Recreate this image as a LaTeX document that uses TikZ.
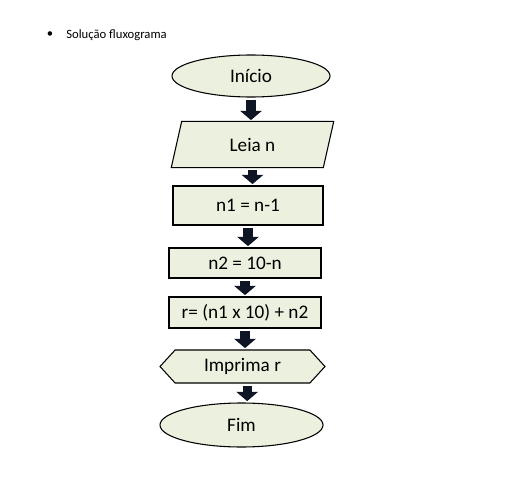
\documentclass[tikz,border=0pt]{standalone}
\usepackage{fontspec}
\setmainfont{Carlito}
\usetikzlibrary{shapes.geometric,shapes.symbols,arrows.meta,backgrounds}
\definecolor{boxfill}{HTML}{EBF1DE}
\definecolor{arrowblue}{HTML}{0E1626}
\tikzset{
  base/.style={draw=black, line width=0.8pt, fill=boxfill, inner sep=0pt,
    font=\fontsize{14.4}{16}\selectfont},
  terminal/.style={base, ellipse},
  io/.style={base, draw=none, fill=none, rectangle},
  process/.style={base, rectangle},
  output/.style={base, signal, signal to=west and east, signal pointer angle=95},
  blockarrow/.style={arrowblue, line width=7pt,
    -{Triangle[width=16pt,length=7pt]}, shorten <=1.5pt, shorten >=1pt}
}
\begin{document}
\begin{tikzpicture}[x=0.75pt,y=-0.75pt]
\useasboundingbox (0,0) rectangle (517,481);

% heading
\node[font=\fontsize{9.5}{11}\selectfont] (dot) at (50,35) {\textbullet};
\node[anchor=west, inner sep=0pt, font=\fontsize{9.5}{11}\selectfont] (titulo) at (66,35) {Solução fluxograma};

% flowchart
\node[terminal, minimum width=118.5pt, minimum height=31.5pt] (inicio) at (251,76) {Início};
\node[io, minimum width=113.25pt, minimum height=33.75pt] (leia) at (252.5,144.5) {Leia n};
\node[process, minimum width=112.5pt, minimum height=29.25pt] (n1) at (248,205.5) {n1 = n-1};
\node[process, minimum width=114pt, minimum height=22.5pt] (n2) at (245,263) {n2 = 10-n};
\node[process, minimum width=114pt, minimum height=23.25pt] (res) at (245,312.5) {r= (n1 x 10) + n2};
\node[output, minimum width=123.75pt, minimum height=24.75pt] (imprima) at (242.5,366.5) {Imprima r};
\node[terminal, minimum width=122.25pt, minimum height=33pt] (fim) at (241.5,425) {Fim};

% parallelogram behind "Leia n"
\begin{pgfonlayer}{background}
\draw[base] ([xshift=-3.9pt]leia.south west) -- ([xshift=3.9pt]leia.north west)
  -- ([xshift=3.9pt]leia.north east) -- ([xshift=-3.9pt]leia.south east) -- cycle;
\end{pgfonlayer}

% arrows
\draw[blockarrow] (inicio.south) -- (inicio.south |- leia.north);
\draw[blockarrow] (leia.south) -- (leia.south |- n1.north);
\draw[blockarrow] (n1.south) -- (n1.south |- n2.north);
\draw[blockarrow] (n2.south) -- (n2.south |- res.north);
\draw[blockarrow] (res.south) -- (res.south |- imprima.north);
\draw[blockarrow] ([xshift=3.5pt]imprima.south) -- ([xshift=3.5pt]imprima.south |- fim.north);

\end{tikzpicture}
\end{document}
